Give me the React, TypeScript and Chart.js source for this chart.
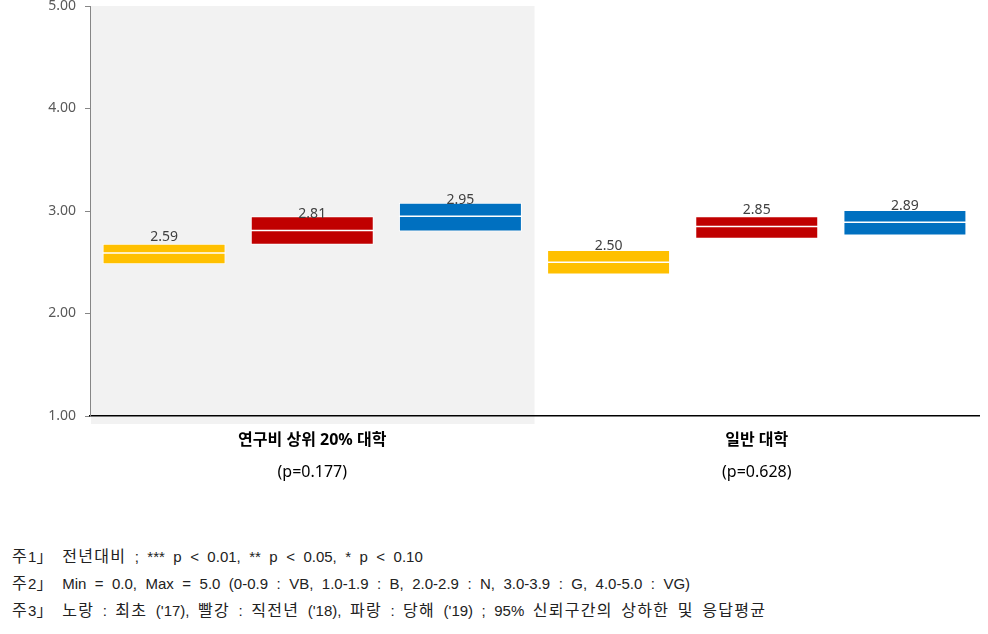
import React, { useEffect, useRef } from "react";
import { Chart, registerables } from "chart.js";

Chart.register(...registerables);

const categories = ["연구비 상위 20% 대학", "일반 대학"];
const pValues = ["(p=0.177)", "(p=0.628)"];
const seriesNames = ["최초 ('17)", "직전년 ('18)", "당해 ('19)"];
const seriesColors = ["#FFC000", "#C00000", "#0070C0"];

const mean2017 = [2.59, 2.5];
const lower2017 = [2.48, 2.38];
const upper2017 = [2.68, 2.62];

const mean2018 = [2.81, 2.85];
const lower2018 = [2.67, 2.73];
const upper2018 = [2.95, 2.95];

const mean2019 = [2.95, 2.89];
const lower2019 = [2.8, 2.76];
const upper2019 = [3.08, 3.01];

const yTicks = [1, 2, 3, 4, 5];

const notes = [
  "주1」 전년대비 ; *** p < 0.01, ** p < 0.05, * p < 0.10",
  "주2」 Min = 0.0, Max = 5.0 (0-0.9 : VB, 1.0-1.9 : B, 2.0-2.9 : N, 3.0-3.9 : G, 4.0-5.0 : VG)",
  "주3」 노랑 : 최초 ('17), 빨강 : 직전년 ('18), 파랑 : 당해 ('19) ; 95% 신뢰구간의 상하한 및 응답평균",
];

const means = [mean2017, mean2018, mean2019];
const lowers = [lower2017, lower2018, lower2019];
const uppers = [upper2017, upper2018, upper2019];

const FONT = '"Noto Sans", "Noto Sans CJK KR", sans-serif';
const KOREAN = /([\u3131-\u318E\uAC00-\uD7A3\u300C-\u300F]+)/;

const shadePlugin = {
  id: "shade",
  beforeDraw(chart: any) {
    const { ctx, chartArea, scales } = chart;
    const x = scales.x;
    const c0 = x.getPixelForValue(0);
    const c1 = x.getPixelForValue(1);
    const half = (c1 - c0) / 2;
    ctx.save();
    ctx.fillStyle = "#F2F2F2";
    ctx.fillRect(c0 - half + 1, chartArea.top, 2 * half - 1, chartArea.bottom - chartArea.top + 8);
    ctx.restore();
  },
};

const meanPlugin = {
  id: "meanLines",
  afterDatasetsDraw(chart: any) {
    const { ctx, scales } = chart;
    const y = scales.y;
    ctx.save();
    means.forEach((arr, i) => {
      const meta = chart.getDatasetMeta(i);
      arr.forEach((m, j) => {
        const bar = meta.data[j];
        if (!bar) return;
        const py = y.getPixelForValue(m);
        const w = bar.width;
        ctx.strokeStyle = "#FFFFFF";
        ctx.lineWidth = 1.5;
        ctx.beginPath();
        ctx.moveTo(bar.x - w / 2, py);
        ctx.lineTo(bar.x + w / 2, py);
        ctx.stroke();
        ctx.fillStyle = "#404040";
        ctx.font = `14px ${FONT}`;
        ctx.textAlign = "center";
        ctx.textBaseline = "middle";
        ctx.fillText(m.toFixed(2), bar.x, py - 16);
      });
    });
    ctx.restore();
  },
};

export default function App() {
  const ref = useRef<HTMLCanvasElement>(null);

  useEffect(() => {
    if (!ref.current) return;
    const chart = new Chart(ref.current, {
      type: "bar",
      data: {
        labels: categories,
        datasets: seriesNames.map((name, i) => ({
          label: name,
          data: lowers[i].map((lo, j) => [lo, uppers[i][j]]),
          backgroundColor: seriesColors[i],
          borderColor: "#FFFFFF",
          borderWidth: 1,
          borderSkipped: false,
          categoryPercentage: 1.0,
          barPercentage: 0.83,
        })) as any,
      },
      options: {
        responsive: false,
        animation: false,
        layout: { padding: { left: 0, right: 9, top: 0, bottom: 0 } },
        plugins: {
          legend: { display: false },
          tooltip: { enabled: false },
        },
        scales: {
          x: {
            type: "category",
            offset: true,
            grid: { display: false, drawTicks: false },
            border: { display: true, color: "#000000", width: 1.5 },
            ticks: {
              padding: 15,
              color: "#000000",
              font: { family: FONT, size: 16, weight: "bold" },
              maxRotation: 0,
              autoSkip: false,
            },
            afterFit: (s: any) => {
              s.height = 40;
            },
          },
          x2: {
            type: "category",
            position: "bottom",
            labels: pValues,
            offset: true,
            grid: { display: false, drawTicks: false },
            border: { display: false },
            ticks: {
              padding: 7,
              color: "#000000",
              font: { family: FONT, size: 16 },
              maxRotation: 0,
              autoSkip: false,
            },
            afterFit: (s: any) => {
              s.height = 44;
            },
          },
          y: {
            min: 1,
            max: 5,
            grid: {
              display: true,
              drawOnChartArea: false,
              drawTicks: true,
              tickLength: 5,
              color: "#868686",
            },
            border: { display: true, color: "#868686", width: 1 },
            afterBuildTicks: (s: any) => {
              s.ticks = yTicks.map((v) => ({ value: v }));
            },
            ticks: {
              padding: 9,
              color: "#595959",
              font: { family: FONT, size: 14 },
              callback: (v: any) => Number(v).toFixed(2),
            },
            afterFit: (s: any) => {
              s.width = 90;
              s.paddingTop = 6;
            },
          },
        },
      },
      plugins: [shadePlugin, meanPlugin],
    } as any);
    return () => chart.destroy();
  }, []);

  return (
    <div style={{ position: "absolute", left: 0, top: 0, width: 988, height: 634, background: "#fff" }}>
      <canvas ref={ref} width={988} height={500} style={{ position: "absolute", left: 0, top: 0 }} />
      <div
        style={{
          position: "absolute",
          left: 12,
          top: 543,
          fontFamily: '"Liberation Sans", "Noto Sans CJK KR", sans-serif',
          fontSize: 15,
          lineHeight: "27px",
          wordSpacing: "4.3px",
          color: "#222222",
          whiteSpace: "pre",
        }}
      >
        {notes.map((n, i) => (
          <div key={i} style={{ height: 27 }}>
            {n.split(KOREAN).map((seg, k) =>
              KOREAN.test(seg) ? (
                <span key={k} style={{ fontSize: 16, letterSpacing: "1.3px" }}>
                  {seg}
                </span>
              ) : (
                <span key={k}>{seg}</span>
              )
            )}
          </div>
        ))}
      </div>
    </div>
  );
}
